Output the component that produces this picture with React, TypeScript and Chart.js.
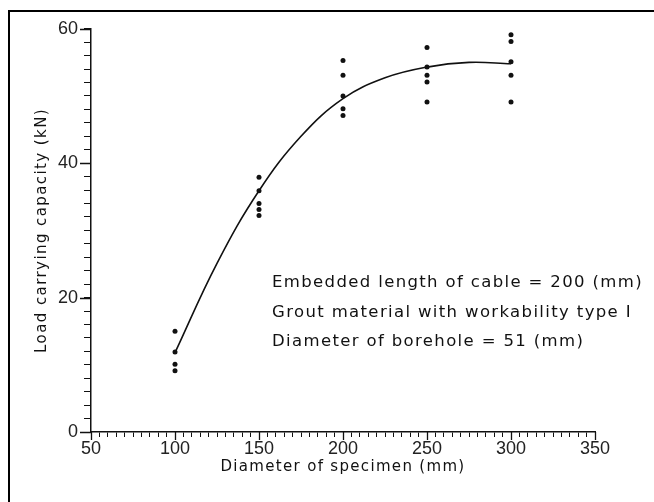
import React, { useEffect, useRef } from 'react';
import { Chart, registerables } from 'chart.js';
Chart.register(...registerables);

// Measured specimens (diameter in mm, load in kN)
const specimenDiameters = [
  100, 100, 100, 100,
  150, 150, 150, 150, 150,
  200, 200, 200, 200, 200,
  250, 250, 250, 250, 250,
  300, 300, 300, 300, 300,
];
const loadCapacities = [
  15.0, 11.9, 10.1, 9.1,
  37.9, 35.9, 34.0, 33.1, 32.2,
  55.3, 53.1, 50.0, 48.1, 47.1,
  57.2, 54.3, 53.1, 52.1, 49.1,
  59.1, 58.1, 55.1, 53.1, 49.1,
];

// Fitted curve
const fitDiameters = [100, 125, 150, 175, 200, 225, 250, 275, 300];
const fitLoads = [11.8, 25.1, 35.9, 44.0, 49.6, 52.7, 54.3, 55.0, 54.8];

const xMajorTicks = [50, 100, 150, 200, 250, 300, 350];
const yMajorTicks = [0, 20, 40, 60];

const xTitle = 'Diameter of specimen (mm)';
const yTitle = 'Load carrying capacity (kN)';
const notes = [
  'Embedded length of cable = 200 (mm)',
  'Grout material with workability type I',
  'Diameter of borehole = 51 (mm)',
];

const CANVAS_W = 644;
const CANVAS_H = 490;
const INK = '#111';
const TEXT_FONT = '"DejaVu Sans", sans-serif';

function fitSpacing(ctx: CanvasRenderingContext2D, text: string, target: number) {
  (ctx as any).letterSpacing = '0px';
  const w = ctx.measureText(text).width;
  return Math.max(0, (target - w) / text.length);
}

const decorPlugin = {
  id: 'decor',
  afterDraw(chart: any) {
    const { ctx, chartArea, scales } = chart;
    const xs = scales.x;
    const ys = scales.y;
    ctx.save();
    // longer major ticks
    ctx.strokeStyle = INK;
    ctx.lineWidth = 1.3;
    ctx.beginPath();
    xMajorTicks.forEach((v) => {
      const px = Math.round(xs.getPixelForValue(v)) + 0.5;
      ctx.moveTo(px, chartArea.bottom);
      ctx.lineTo(px, chartArea.bottom + 8);
    });
    yMajorTicks.forEach((v) => {
      const py = Math.round(ys.getPixelForValue(v)) + 0.5;
      ctx.moveTo(chartArea.left - 11, py);
      ctx.lineTo(chartArea.left, py);
    });
    ctx.stroke();

    ctx.fillStyle = INK;
    ctx.textBaseline = 'middle';

    // annotation notes
    ctx.font = `16.5px ${TEXT_FONT}`;
    const sp = fitSpacing(ctx, notes[0], 371);
    (ctx as any).letterSpacing = `${sp}px`;
    ctx.textAlign = 'left';
    const nx = chartArea.left + 181;
    const ny = [chartArea.top + 254, chartArea.top + 284, chartArea.top + 313];
    notes.forEach((t, i) => ctx.fillText(t, nx, ny[i]));

    // x title
    ctx.font = `15px ${TEXT_FONT}`;
    (ctx as any).letterSpacing = `${fitSpacing(ctx, xTitle, 245)}px`;
    ctx.textAlign = 'center';
    ctx.fillText(xTitle, (chartArea.left + chartArea.right) / 2, chartArea.bottom + 35);

    // y title
    ctx.font = `15px ${TEXT_FONT}`;
    (ctx as any).letterSpacing = `${fitSpacing(ctx, yTitle, 245)}px`;
    ctx.translate(chartArea.left - 49, (chartArea.top + chartArea.bottom) / 2);
    ctx.rotate(-Math.PI / 2);
    ctx.textAlign = 'center';
    ctx.fillText(yTitle, 0, 0);
    (ctx as any).letterSpacing = '0px';
    ctx.restore();
  },
};

export default function App() {
  const ref = useRef<HTMLCanvasElement | null>(null);
  useEffect(() => {
    if (!ref.current) return;
    const chart = new Chart(ref.current, {
      type: 'scatter',
      data: {
        datasets: [
          {
            label: 'Specimens',
            data: specimenDiameters.map((d, i) => ({ x: d, y: loadCapacities[i] })),
            pointRadius: 2.5,
            pointBackgroundColor: INK,
            pointBorderWidth: 0,
            pointStyle: 'circle',
          },
          {
            label: 'Fit',
            data: fitDiameters.map((d, i) => ({ x: d, y: fitLoads[i] })),
            showLine: true,
            borderColor: INK,
            borderWidth: 1.6,
            pointRadius: 0,
            tension: 0.4,
          } as any,
        ],
      },
      options: {
        responsive: false,
        animation: false,
        layout: { padding: { top: 12, right: 59, left: 0, bottom: 0 } },
        plugins: { legend: { display: false }, tooltip: { enabled: false } },
        scales: {
          x: {
            type: 'linear',
            min: 50,
            max: 350,
            afterFit: (s: any) => { s.height = CANVAS_H - 420; },
            border: { display: true, color: INK, width: 1.5 },
            grid: { drawOnChartArea: false, drawTicks: true, tickLength: 5, color: INK, tickWidth: 1 },
            ticks: {
              stepSize: 5,
              autoSkip: false,
              maxRotation: 0,
              padding: 1,
              color: '#222',
              font: { family: '"Liberation Sans", Arial, sans-serif', size: 18 },
              callback: (v: any) => (Number(v) % 50 === 0 ? String(v) : ''),
            },
          },
          y: {
            type: 'linear',
            min: 0,
            max: 60,
            afterFit: (s: any) => { s.width = 81; },
            border: { display: true, color: INK, width: 1.5 },
            grid: { drawOnChartArea: false, drawTicks: true, tickLength: 7, color: INK, tickWidth: 1 },
            ticks: {
              stepSize: 2,
              autoSkip: false,
              padding: 6,
              color: '#222',
              font: { family: '"Liberation Sans", Arial, sans-serif', size: 18 },
              callback: (v: any) => (Number(v) % 20 === 0 ? String(v) : ''),
            },
          },
        },
      },
      plugins: [decorPlugin],
    });
    return () => chart.destroy();
  }, []);

  return (
    <div
      style={{
        position: 'absolute',
        left: 8,
        top: 10,
        width: 646,
        height: 492,
        borderTop: '2px solid #000',
        borderLeft: '2px solid #000',
        boxSizing: 'border-box',
        background: '#fff',
      }}
    >
      <canvas ref={ref} width={CANVAS_W} height={CANVAS_H} style={{ display: 'block' }} />
    </div>
  );
}
